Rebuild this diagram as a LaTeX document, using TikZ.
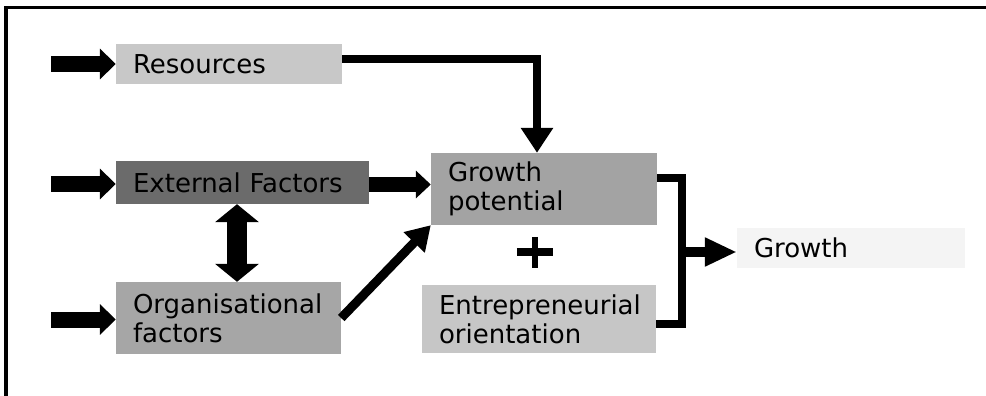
\documentclass[tikz,border=0pt]{standalone}
\usepackage{fontspec}
\setmainfont{DejaVu Sans}
\usetikzlibrary{arrows.meta}
\definecolor{resfill}{HTML}{C8C8C8}
\definecolor{extfill}{HTML}{6B6B6B}
\definecolor{orgfill}{HTML}{A6A6A6}
\definecolor{gpfill}{HTML}{A3A3A3}
\definecolor{eofill}{HTML}{C6C6C6}
\definecolor{grofill}{HTML}{F4F4F4}
\begin{document}
\begin{tikzpicture}[x=1pt,y=-1pt,
  box/.style={rectangle, draw=none, inner xsep=17pt, inner ysep=0pt,
    align=left, font=\fontsize{26}{29}\selectfont, text=black},
  inarrow/.style={line width=16pt, -{Triangle[length=16pt,width=30pt]}},
  thinarrow/.style={line width=8pt, line join=miter, -{Triangle[length=25pt,width=31pt]}},
  midarrow/.style={line width=15pt, -{Triangle[length=15pt,width=27pt]}},
  dblarrow/.style={line width=20pt,
    {Triangle[length=18pt,width=43pt]}-{Triangle[length=18pt,width=43pt]}},
  diagarrow/.style={line width=9pt, -{Triangle[length=24pt,width=28pt]}},
  outarrow/.style={line width=10pt, -{Triangle[length=32pt,width=27pt]}},
  bracket/.style={line width=8pt, line join=miter, line cap=butt}
]
\useasboundingbox (0,0) rectangle (986,396);

% frame lines along the top and the left side
\draw[line width=3.5pt, line join=miter] (6,396) -- (6,7.5) -- (986,7.5);

% boxes
\node[box, fill=resfill, text width=192pt, minimum height=40pt] (res) at (229,64) {Resources};
\node[box, fill=extfill, text width=219pt, minimum height=43pt] (ext) at (242.5,182.5) {External Factors};
\node[box, fill=orgfill, text width=191pt, minimum height=72pt] (org) at (228.5,318) {Organisational\\factors};
\node[box, fill=gpfill, text width=192pt, minimum height=72pt] (gp) at (544,189) {Growth\\potential};
\node[box, fill=eofill, text width=200pt, minimum height=68pt] (eo) at (539,319) {Entrepreneurial\\orientation};
\node[box, fill=grofill, text width=194pt, minimum height=40pt] (gro) at (851,248) {Growth};

% helper coordinates
\coordinate (srcx) at (51,0);
\coordinate (dblx) at (237,0);
\coordinate (brk) at (682,0);
\coordinate (gpend) at ([yshift=11pt]gp.east);
\coordinate (eoend) at ([yshift=-5pt]eo.east);

% incoming arrows on the left
\draw[inarrow] (srcx |- res.west) -- (res.west);
\draw[inarrow] ([yshift=-1.5pt]srcx |- ext.west) -- ([yshift=-1.5pt]ext.west);
\draw[inarrow] ([yshift=-1.5pt]srcx |- org.west) -- ([yshift=-1.5pt]org.west);

% resources into growth potential
\draw[thinarrow] ([yshift=5pt]res.east) -| ([xshift=-7pt]gp.north);

% external factors into growth potential
\draw[midarrow] ([yshift=-2pt]ext.east) -- ([yshift=-2pt]ext.east -| gp.west);

% external factors <-> organisational factors
\draw[dblarrow] (dblx |- ext.south) -- (dblx |- org.north);

% organisational factors into growth potential
\draw[diagarrow] (org.east) -- (gp.south west);

% plus sign
\node[minimum size=36pt, inner sep=0pt] (plus) at (535,252) {};
\draw[line width=7.5pt] (plus.west) -- (plus.east);
\draw[line width=6.5pt] ([yshift=-3pt]plus.north) -- ([yshift=2pt]plus.south);

% bracket joining both boxes, and the arrow to growth
\draw[bracket] (gpend) -| (brk |- eoend) -- (eoend);
\draw[outarrow] ([yshift=-4pt]brk |- gro.west) -- ([yshift=-4pt]gro.west);
\end{tikzpicture}
\end{document}
